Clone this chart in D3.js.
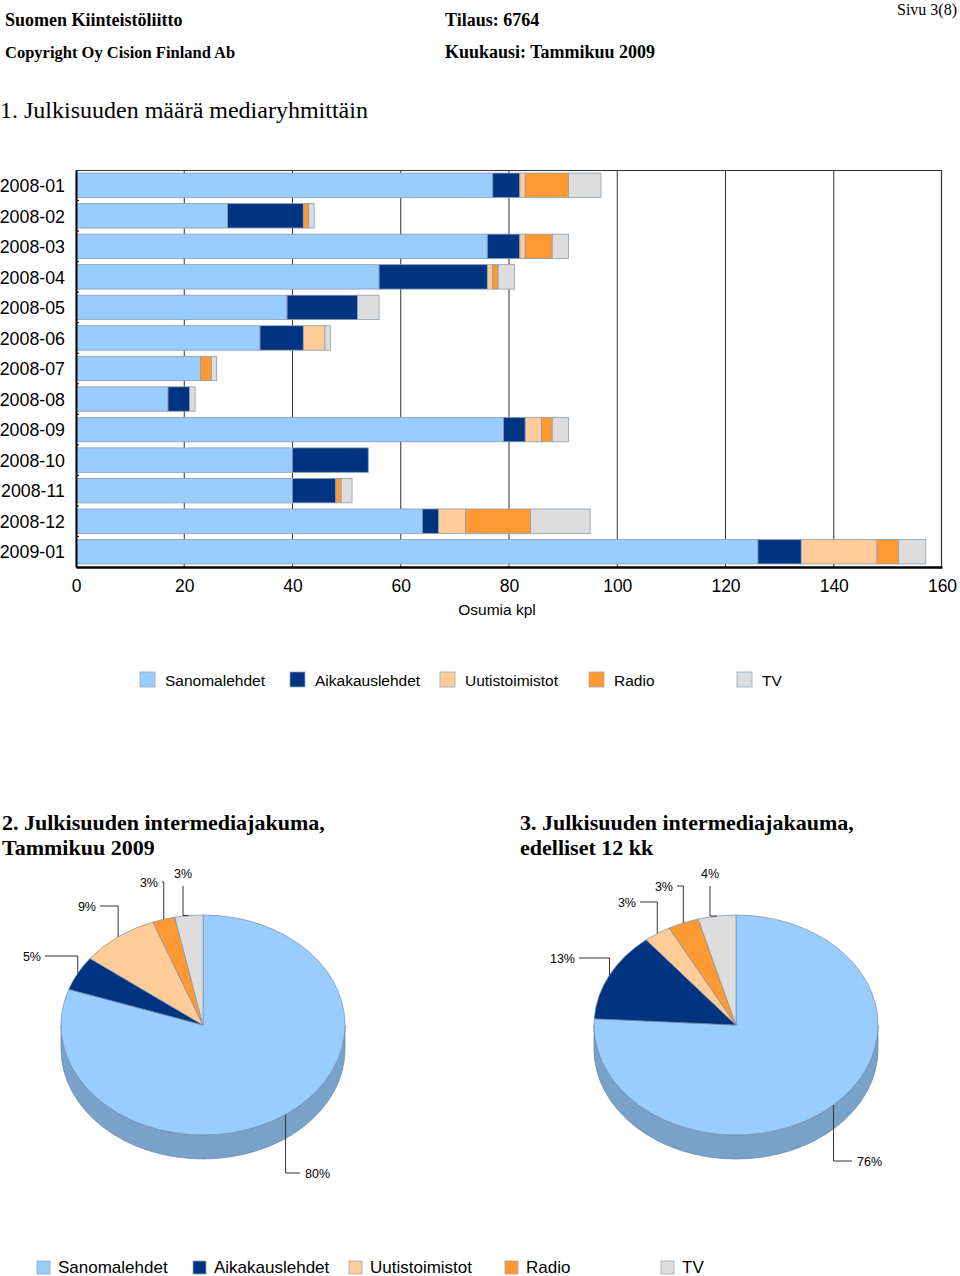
<!DOCTYPE html>
<html>
<head>
<meta charset="utf-8">
<script src="https://cdn.jsdelivr.net/npm/d3@7/dist/d3.min.js"></script>
<style>
  html, body { margin: 0; padding: 0; background: #fff; }
  svg { display: block; }
</style>
</head>
<body>
<svg id="chart" width="960" height="1276"></svg>
<script>
// ---------------- DATA ----------------
const months = ["2008-01","2008-02","2008-03","2008-04","2008-05","2008-06","2008-07","2008-08","2008-09","2008-10","2008-11","2008-12","2009-01"];
const seriesNames = ["Sanomalehdet","Aikakauslehdet","Uutistoimistot","Radio","TV"];
const sanomalehdet   = [77, 28, 76, 56, 39, 34, 23, 17, 79, 40, 40, 64, 126];
const aikakauslehdet = [ 5, 14,  6, 20, 13,  8,  0,  4,  4, 14,  8,  3,   8];
const uutistoimistot = [ 1,  0,  1,  1,  0,  4,  0,  0,  3,  0,  0,  5,  14];
const radio          = [ 8,  1,  5,  1,  0,  0,  2,  0,  2,  0,  1, 12,   4];
const tv             = [ 6,  1,  3,  3,  4,  1,  1,  1,  3,  0,  2, 11,   5];
const xTicks = [0, 20, 40, 60, 80, 100, 120, 140, 160];
const seriesColors = ["#99CCFF", "#003380", "#FFCC99", "#FF9933", "#DDDDDD"];

// pie 1: Tammikuu 2009 (same month as last bar row)
const pie1Values = [126, 8, 14, 4, 5];
// pie 2: previous 12 months share
const pie2Values = [75.9, 13.2, 3.1, 3.5, 4.3];
const pie2Labels = ["76%", "13%", "3%", "3%", "4%"];

// ---------------- SETUP ----------------
const svg = d3.select("#chart");
const SERIF = "'Liberation Serif', 'Times New Roman', serif";
const SANS = "'Liberation Sans', Arial, sans-serif";

// Header texts
svg.append("text").attr("x", 5).attr("y", 26).attr("font-family", SERIF).attr("font-weight", "bold").attr("font-size", 18).text("Suomen Kiinteistöliitto");
svg.append("text").attr("x", 445).attr("y", 26).attr("font-family", SERIF).attr("font-weight", "bold").attr("font-size", 18).text("Tilaus: 6764");
svg.append("text").attr("x", 957).attr("y", 15).attr("text-anchor", "end").attr("font-family", SERIF).attr("font-size", 16).text("Sivu 3(8)");
svg.append("text").attr("x", 5).attr("y", 58).attr("font-family", SERIF).attr("font-weight", "bold").attr("font-size", 16.5).text("Copyright Oy Cision Finland Ab");
svg.append("text").attr("x", 445).attr("y", 58).attr("font-family", SERIF).attr("font-weight", "bold").attr("font-size", 18).text("Kuukausi: Tammikuu 2009");
svg.append("text").attr("x", 0).attr("y", 118).attr("font-family", SERIF).attr("font-size", 24).text("1. Julkisuuden määrä mediaryhmittäin");

// ---------------- BAR CHART ----------------
const plot = { left: 76, right: 942, top: 170, bottom: 567 };
const x = d3.scaleLinear().domain([0, 160]).range([plot.left, plot.right]);
const y = d3.scaleBand().domain(months).range([plot.top, plot.bottom]).paddingInner(0.2).paddingOuter(0.1);

const rows = months.map((m, i) => ({
  month: m,
  Sanomalehdet: sanomalehdet[i],
  Aikakauslehdet: aikakauslehdet[i],
  Uutistoimistot: uutistoimistot[i],
  Radio: radio[i],
  TV: tv[i]
}));
const stacked = d3.stack().keys(seriesNames)(rows);
const color = d3.scaleOrdinal().domain(seriesNames).range(seriesColors);

// grid lines (behind bars)
svg.append("g").selectAll("line").data(xTicks.filter(t => t > 0 && t < 160)).join("line")
  .attr("x1", d => x(d)).attr("x2", d => x(d))
  .attr("y1", plot.top).attr("y2", plot.bottom)
  .attr("stroke", "#333").attr("stroke-width", 1);
// frame top and right
svg.append("line").attr("x1", plot.left).attr("x2", plot.right).attr("y1", plot.top + 0.5).attr("y2", plot.top + 0.5).attr("stroke", "#333").attr("stroke-width", 1.2);
svg.append("line").attr("x1", plot.right - 0.5).attr("x2", plot.right - 0.5).attr("y1", plot.top).attr("y2", plot.bottom).attr("stroke", "#333").attr("stroke-width", 1.2);

// bars
svg.append("g").selectAll("g").data(stacked).join("g")
  .attr("fill", d => color(d.key))
  .selectAll("rect").data(d => d.filter(s => s[1] - s[0] > 0)).join("rect")
  .attr("x", d => x(d[0]))
  .attr("y", d => y(d.data.month))
  .attr("width", d => x(d[1]) - x(d[0]))
  .attr("height", y.bandwidth())
  .attr("stroke", "#8A9DB3").attr("stroke-width", 0.8);

// y axis
const yAxis = svg.append("g").attr("transform", `translate(${plot.left},0)`)
  .call(d3.axisLeft(y).tickSize(0).tickPadding(11));
yAxis.select(".domain").attr("stroke", "#000").attr("stroke-width", 2);
yAxis.selectAll("text").attr("font-family", SANS).attr("font-size", 17.8).attr("fill", "#000").attr("dy", "0.38em");
// small category separator ticks on y axis
svg.append("g").selectAll("line").data(months.slice(1)).join("line")
  .attr("x1", plot.left).attr("x2", plot.left + 3)
  .attr("y1", d => y(d) - y.step() * y.paddingInner() / 2)
  .attr("y2", d => y(d) - y.step() * y.paddingInner() / 2)
  .attr("stroke", "#000").attr("stroke-width", 1);

// x axis
const xAxis = svg.append("g").attr("transform", `translate(0,${plot.bottom})`)
  .call(d3.axisBottom(x).tickValues(xTicks).tickSize(0).tickPadding(13));
xAxis.select(".domain").attr("stroke", "#000").attr("stroke-width", 2.5);
xAxis.selectAll("text").attr("font-family", SANS).attr("font-size", 17.5).attr("fill", "#000");
svg.append("text").attr("x", 497).attr("y", 615).attr("text-anchor", "middle")
  .attr("font-family", SANS).attr("font-size", 15.5).text("Osumia kpl");

// legend top
const legendTopX = [140, 290, 440, 589, 737];
const lg1 = svg.append("g").selectAll("g").data(seriesNames).join("g")
  .attr("transform", (d, i) => `translate(${legendTopX[i]},672)`);
lg1.append("rect").attr("width", 15).attr("height", 15).attr("fill", d => color(d)).attr("stroke", "#9aa8b8").attr("stroke-width", 0.8);
lg1.append("text").attr("x", 25).attr("y", 13.5).attr("font-family", SANS).attr("font-size", 15.5).text(d => d);

// ---------------- PIES ----------------
svg.append("text").attr("x", 2).attr("y", 830).attr("font-family", SERIF).attr("font-weight", "bold").attr("font-size", 22).text("2. Julkisuuden intermediajakuma,");
svg.append("text").attr("x", 2).attr("y", 855).attr("font-family", SERIF).attr("font-weight", "bold").attr("font-size", 22).text("Tammikuu 2009");
svg.append("text").attr("x", 520).attr("y", 830).attr("font-family", SERIF).attr("font-weight", "bold").attr("font-size", 22).text("3. Julkisuuden intermediajakauma,");
svg.append("text").attr("x", 520).attr("y", 855).attr("font-family", SERIF).attr("font-weight", "bold").attr("font-size", 22).text("edelliset 12 kk");

const RX = 142, RY = 110, DEPTH = 24;

function drawPie(cx, cy, values, labels, labelLayout) {
  const g = svg.append("g");
  const arcs = d3.pie().sort(null)(values);
  const pt = (a, dy = 0) => [cx + RX * Math.sin(a), cy - RY * Math.cos(a) + dy];

  // sides (front part, angles between PI/2 and 3PI/2)
  arcs.forEach((a, i) => {
    const s = Math.max(a.startAngle, Math.PI / 2);
    const e = Math.min(a.endAngle, 3 * Math.PI / 2);
    if (e <= s) return;
    const p0 = pt(s), p1 = pt(e), q1 = pt(e, DEPTH), q0 = pt(s, DEPTH);
    const path = `M${p0}A${RX},${RY} 0 0 1 ${p1}L${q1}A${RX},${RY} 0 0 0 ${q0}Z`;
    g.append("path").attr("d", path)
      .attr("fill", d3.color(seriesColors[i]).darker(0.65).formatHex())
      .attr("stroke", "#5f7fa6").attr("stroke-width", 0.7);
  });
  // tops
  arcs.forEach((a, i) => {
    const p0 = pt(a.startAngle), p1 = pt(a.endAngle);
    const large = (a.endAngle - a.startAngle) > Math.PI ? 1 : 0;
    const path = `M${cx},${cy}L${p0}A${RX},${RY} 0 ${large} 1 ${p1}Z`;
    g.append("path").attr("d", path).attr("fill", seriesColors[i])
      .attr("stroke", "#7a8fa8").attr("stroke-width", 0.7).attr("stroke-linejoin", "round");
  });
  // labels with leader lines
  arcs.forEach((a, i) => {
    const L = labelLayout[i];
    const mid = (a.startAngle + a.endAngle) / 2;
    const [ex, ey] = pt(mid);
    const lx = cx + L.dx, ly = cy + L.dy;
    let pts;
    if (L.type === "top") {
      pts = [[ex, ey], [lx, ey], [lx, ly + 13]];
    } else if (L.type === "right") {
      pts = [[ex, ey], [ex, ly], [lx - 5, ly]];
    } else {
      pts = [[ex, ey], [ex, ly], [lx + 4, ly]];
    }
    g.append("path").attr("d", d3.line()(pts)).attr("fill", "none").attr("stroke", "#333").attr("stroke-width", 1);
    g.append("text").attr("x", lx).attr("y", ly + 4.5)
      .attr("text-anchor", L.type === "top" ? "middle" : (L.type === "right" ? "start" : "end"))
      .attr("font-family", SANS).attr("font-size", 12.5).text(labels[i]);
  });
}

const total1 = d3.sum(pie1Values);
const pie1Labels = pie1Values.map(v => Math.round(v / total1 * 100) + "%");

drawPie(203, 1025, pie1Values, pie1Labels, [
  { type: "right", dx: 102, dy: 148 },
  { type: "left", dx: -162, dy: -69 },
  { type: "left", dx: -107, dy: -119 },
  { type: "left", dx: -45, dy: -143 },
  { type: "top", dx: -20, dy: -152 }
]);
drawPie(736, 1025, pie2Values, pie2Labels, [
  { type: "right", dx: 121, dy: 136 },
  { type: "left", dx: -161, dy: -67 },
  { type: "left", dx: -100, dy: -123 },
  { type: "left", dx: -63, dy: -139 },
  { type: "top", dx: -26, dy: -152 }
]);

// bottom legend
const legendBotX = [37, 193, 349, 505, 661];
const lg2 = svg.append("g").selectAll("g").data(seriesNames).join("g")
  .attr("transform", (d, i) => `translate(${legendBotX[i]},1261)`);
lg2.append("rect").attr("width", 13).attr("height", 13).attr("fill", d => color(d)).attr("stroke", "#9aa8b8").attr("stroke-width", 0.8);
lg2.append("text").attr("x", 21).attr("y", 12).attr("font-family", SANS).attr("font-size", 17).text(d => d);
</script>
</body>
</html>
